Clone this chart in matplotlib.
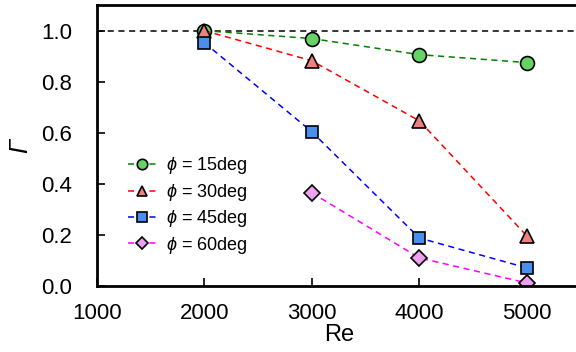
import matplotlib
matplotlib.use('Agg')
import matplotlib.pyplot as plt

plt.rcParams['font.family'] = ['Liberation Sans', 'DejaVu Sans']
plt.rcParams['mathtext.fontset'] = 'custom'
plt.rcParams['mathtext.rm'] = 'Liberation Sans'
plt.rcParams['mathtext.it'] = 'Liberation Sans:italic'

re_15 = [2000, 3000, 4000, 5000]
gam_15 = [1.0, 0.969, 0.906, 0.875]
re_30 = [2000, 3000, 4000, 5000]
gam_30 = [1.0, 0.882, 0.647, 0.196]
re_45 = [2000, 3000, 4000, 5000]
gam_45 = [0.953, 0.604, 0.188, 0.071]
re_60 = [3000, 4000, 5000]
gam_60 = [0.365, 0.110, 0.012]

labels = [r'$\phi$ = 15deg', r'$\phi$ = 30deg', r'$\phi$ = 45deg', r'$\phi$ = 60deg']

fig = plt.figure(figsize=(5.76, 3.52), dpi=100)
ax = fig.add_axes([0.168, 0.1875, 0.840, 0.798])

ax.axhline(1.0, color='k', linewidth=1.1, dashes=(4, 3))

ax.plot(re_15, gam_15, color='green', marker='o', markersize=10,
        markerfacecolor='#66d366', markeredgecolor='k', markeredgewidth=1.2,
        label=labels[0], dashes=(4, 3), linewidth=1.1)
ax.plot(re_30, gam_30, color='red', marker='^', markersize=10,
        markerfacecolor='#f08080', markeredgecolor='k', markeredgewidth=1.2,
        label=labels[1], dashes=(4, 3), linewidth=1.1)
ax.plot(re_45, gam_45, color='blue', marker='s', markersize=9,
        markerfacecolor='#4a8ef0', markeredgecolor='k', markeredgewidth=1.2,
        label=labels[2], dashes=(4, 3), linewidth=1.1)
ax.plot(re_60, gam_60, color='magenta', marker='D', markersize=8,
        markerfacecolor='#f0a0f0', markeredgecolor='k', markeredgewidth=1.2,
        label=labels[3], dashes=(4, 3), linewidth=1.1)

ax.set_xlim(1000, 5500)
ax.set_ylim(0, 1.1)
ax.set_xticks([1000, 2000, 3000, 4000, 5000])
ax.set_yticks([0.0, 0.2, 0.4, 0.6, 0.8, 1.0])
ax.set_yticklabels(['0.0', '0.2', '0.4', '0.6', '0.8', '1.0'])
ax.tick_params(direction='in', length=6, width=1.2, labelsize=16)
ax.tick_params(axis='x', pad=12)
ax.tick_params(axis='y', pad=18)
for s in ax.spines.values():
    s.set_linewidth(2)
ax.spines['right'].set_visible(False)

ax.set_xlabel('Re', fontsize=17, labelpad=0)
ax.set_ylabel('Γ', fontsize=18, fontstyle='italic', labelpad=6)

ax.legend(loc='lower left', bbox_to_anchor=(0.03, 0.05), frameon=False,
          fontsize=13, handlelength=1.6, labelspacing=0.3,
          markerscale=0.75, handletextpad=0.55)

fig.savefig('out.png', dpi=100)
